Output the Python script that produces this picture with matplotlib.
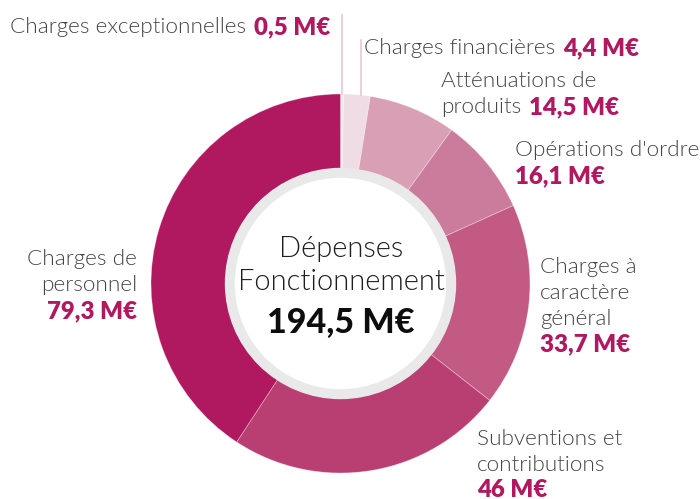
import matplotlib
matplotlib.use("Agg")
import matplotlib.pyplot as plt
import numpy as np

# Budget data (M€), clockwise from 12 o'clock
categories = ["Charges exceptionnelles", "Charges financières", "Atténuations de produits",
              "Opérations d'ordre", "Charges à caractère général",
              "Subventions et contributions", "Charges de personnel"]
values = [0.5, 4.4, 14.5, 16.1, 33.7, 46, 79.3]
value_labels = ["0,5 M€", "4,4 M€", "14,5 M€", "16,1 M€", "33,7 M€", "46 M€", "79,3 M€"]
colors = ["#f4e6ec", "#f0dce4", "#d9a0b5", "#cb7b9b", "#c35a84", "#b93f72", "#b0185f"]
total_label = "194,5 M€"

W, H = 700, 499
fig = plt.figure(figsize=(W / 100, H / 100), dpi=100)
ax = fig.add_axes([0, 0, 1, 1])

FONT = ["Lato", "DejaVu Sans"]
GREY = "#444444"
ACCENT = "#b0185f"
FS = 16.2
FSV = 17.3

cx, cy = 340.5, H - 283.5
R = 189.5

ax.pie(values, colors=colors, startangle=90, counterclock=False,
       center=(cx, cy), radius=R, frame=True,
       wedgeprops=dict(width=R - 110, edgecolor=(1, 1, 1, 0.35), linewidth=0.6))
ax.set_xlim(0, W)
ax.set_ylim(0, H)
ax.set_aspect("equal")
ax.axis("off")

# inner grey ring and white hole
ax.add_patch(plt.Circle((cx, cy), 115, color="#e9e9e9", zorder=5))
ax.add_patch(plt.Circle((cx, cy), 105, color="white", zorder=6))

ax.text(cx + 1, H - 249, "Dépenses", ha="center", va="center", fontsize=21,
        family=FONT, fontweight=300, color="#1e1e1e", zorder=7)
ax.text(cx + 1, H - 282, "Fonctionnement", ha="center", va="center", fontsize=21,
        family=FONT, fontweight=300, color="#1e1e1e", zorder=7)
ax.text(cx, H - 323, total_label, ha="center", va="center", fontsize=24.5,
        family=FONT, fontweight=900, color="#0d0d0d", zorder=7)

# leader lines for the two thin slices at the top
cum = np.cumsum([0] + values)
tot = sum(values)
for i, ytop in [(0, 15), (1, 40)]:
    ang = np.deg2rad(90 - (cum[i] + values[i] / 2) / tot * 360)
    x = cx + R * np.cos(ang)
    x = cx + 1 if i == 0 else x + 4
    ax.plot([x, x], [H - ytop, cy + R * np.sin(ang)], color="#e9c6d4", lw=1.2, zorder=1)

fig.canvas.draw()
renderer = fig.canvas.get_renderer()
inv = ax.transData.inverted()


def line(x, y, text, value=None, ha="left"):
    """Draw one label line: grey text optionally followed by the accent value."""
    t = ax.text(x, H - y, text, ha=ha, va="center", fontsize=FS, family=FONT,
                color=GREY, fontweight=300)
    if value is not None:
        bb = t.get_window_extent(renderer)
        x1 = inv.transform((bb.x1, bb.y0))[0]
        ax.text(x1 + 8, H - y, value, ha="left", va="center", fontsize=FSV,
                family=FONT, color=ACCENT, fontweight=800)


def value_line(x, y, value, ha="left"):
    ax.text(x, H - y, value, ha=ha, va="center", fontsize=FSV, family=FONT,
            color=ACCENT, fontweight=800)


line(10, 27, "Charges exceptionnelles", value_labels[0])
line(364, 48, "Charges financières", value_labels[1])
line(441, 81, "Atténuations de")
line(441, 107, "produits", value_labels[2])
line(515, 150, "Opérations d'ordre")
value_line(515, 176, value_labels[3])
line(540, 267, "Charges à")
line(540, 293, "caractère")
line(540, 319, "général")
value_line(540, 344, value_labels[4])
line(477, 439, "Subventions et")
line(477, 465, "contributions")
value_line(477, 490, value_labels[5])
line(137, 259, "Charges de", ha="right")
line(137, 285, "personnel", ha="right")
value_line(137, 311, value_labels[6], ha="right")

fig.savefig("out.png", dpi=100)
